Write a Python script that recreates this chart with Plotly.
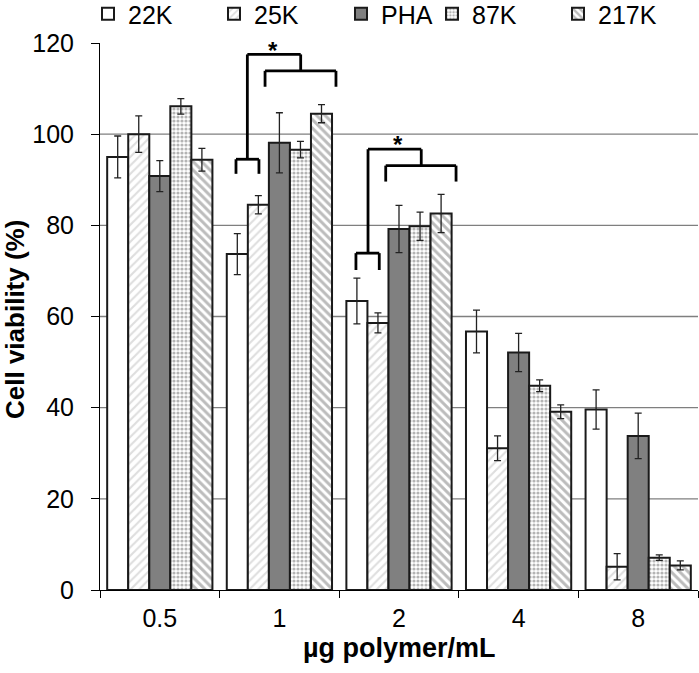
import plotly.graph_objects as go

categories = ["0.5", "1", "2", "4", "8"]
series_names = ["22K", "25K", "PHA", "87K", "217K"]

v_22k = [95.0, 73.7, 63.4, 56.7, 39.6]
e_22k = [4.6, 4.5, 5.0, 4.7, 4.3]
v_25k = [100.0, 84.5, 58.6, 31.1, 5.1]
e_25k = [4.0, 2.0, 2.2, 2.7, 2.9]
v_pha = [90.8, 98.1, 79.2, 52.1, 33.8]
e_pha = [3.4, 6.6, 5.2, 4.2, 5.0]
v_87k = [106.1, 96.6, 79.8, 44.8, 7.1]
e_87k = [1.7, 1.8, 3.1, 1.3, 0.6]
v_217k = [94.4, 104.5, 82.6, 39.1, 5.4]
e_217k = [2.5, 2.0, 4.2, 1.5, 1.0]

y_ticks = [0, 20, 40, 60, 80, 100, 120]

FONT = "Arial, 'Liberation Sans', sans-serif"

values = [v_22k, v_25k, v_pha, v_87k, v_217k]
errors = [e_22k, e_25k, e_pha, e_87k, e_217k]

styles = [
    dict(color="white", pattern=dict(shape="")),
    dict(color="white", pattern=dict(shape="/", fgcolor="#bdbdbd", bgcolor="white", size=6, solidity=0.35)),
    dict(color="#808080", pattern=dict(shape="")),
    dict(color="white", pattern=dict(shape=".", fgcolor="#6a6a6a", bgcolor="white", size=4, solidity=0.5)),
    dict(color="white", pattern=dict(shape="\\", fgcolor="#7a7a7a", bgcolor="white", size=6, solidity=0.5)),
]

legend_ids = ["legend", "legend2", "legend3", "legend4", "legend5"]
legend_text_x = [128, 254, 381, 472, 598]

fig = go.Figure()
for name, vals, errs, st, lg in zip(series_names, values, errors, styles, legend_ids):
    fig.add_trace(go.Bar(
        name=name, x=categories, y=vals,
        error_y=dict(type="data", array=errs, visible=True, color="#222", thickness=1.3, width=3.5),
        marker=dict(color=st["color"], pattern=st["pattern"], line=dict(color="#1a1a1a", width=2)),
        legend=lg,
    ))

shapes = []
for yv in y_ticks[1:-1]:
    shapes.append(dict(type="line", xref="paper", x0=0, x1=1, yref="y", y0=yv, y1=yv,
                       line=dict(color="#7f7f7f", width=1.3), layer="below"))

def seg(x0, y0, x1, y1):
    shapes.append(dict(type="line", xref="x", yref="y", x0=x0, y0=y0, x1=x1, y1=y1,
                       line=dict(color="black", width=2.8), layer="above"))

# bracket at 1 ug/mL
seg(0.637, 91.3, 0.637, 94.5); seg(0.637, 94.5, 0.829, 94.5); seg(0.829, 94.5, 0.829, 91.3)
seg(0.732, 94.5, 0.732, 117.5); seg(0.732, 117.5, 1.178, 117.5); seg(1.178, 117.5, 1.178, 113.9)
seg(0.880, 110.4, 0.880, 113.9); seg(0.880, 113.9, 1.473, 113.9); seg(1.473, 113.9, 1.473, 110.4)
# bracket at 2 ug/mL
seg(1.640, 70.2, 1.640, 73.9); seg(1.640, 73.9, 1.835, 73.9); seg(1.835, 73.9, 1.835, 70.2)
seg(1.741, 73.9, 1.741, 96.7); seg(1.741, 96.7, 2.186, 96.7); seg(2.186, 96.7, 2.186, 93.1)
seg(1.889, 89.6, 1.889, 93.1); seg(1.889, 93.1, 2.477, 93.1); seg(2.477, 93.1, 2.477, 89.6)

annotations = [
    dict(x=0.946, y=118.3, xref="x", yref="y", text="<b>*</b>", showarrow=False,
         font=dict(family=FONT, size=24, color="black"), yanchor="middle"),
    dict(x=1.992, y=97.8, xref="x", yref="y", text="<b>*</b>", showarrow=False,
         font=dict(family=FONT, size=24, color="black"), yanchor="middle"),
    dict(x=(15 - 100) / 598, y=(590 - 320) / 547, xref="paper", yref="paper",
         text="<b>Cell viability (%)</b>", textangle=-90, showarrow=False,
         xanchor="center", yanchor="middle", font=dict(family=FONT, size=26, color="black")),
    dict(x=0.5, y=(590 - 648) / 547, xref="paper", yref="paper",
         text="<b>µg polymer/mL</b>", showarrow=False,
         xanchor="center", yanchor="middle", font=dict(family=FONT, size=27, color="black")),
]

layout_legends = {}
for lg, tx in zip(legend_ids, legend_text_x):
    layout_legends[lg] = dict(
        xref="container", yref="paper", x=(tx - 40) / 699, y=1 + (43 - 14) / 547,
        xanchor="left", yanchor="middle", orientation="h", bgcolor="rgba(0,0,0,0)",
        font=dict(family=FONT, size=25, color="black"), itemwidth=30,
    )

fig.update_layout(
    width=699, height=673,
    margin=dict(l=100, r=1, t=43, b=83, autoexpand=False),
    paper_bgcolor="white", plot_bgcolor="white",
    barmode="group", bargap=0.12, bargroupgap=0,
    font=dict(family=FONT, size=25, color="black"),
    shapes=shapes, annotations=annotations,
    showlegend=True,
    **layout_legends,
)
fig.update_xaxes(
    type="category", range=[-0.5, 4.5], showline=True, linecolor="black", linewidth=1,
    ticks="outside", tickson="boundaries", ticklen=7, tickcolor="black", tickwidth=1,
    showgrid=False, automargin=False, tickfont=dict(family=FONT, size=25, color="black"),
    ticklabelstandoff=6,
)
fig.update_yaxes(
    range=[0, 120], tickvals=y_ticks, showline=True, linecolor="black", linewidth=1,
    ticks="outside", ticklen=8, tickcolor="black", tickwidth=1, showgrid=False, zeroline=False,
    automargin=False, tickfont=dict(family=FONT, size=25, color="black"), ticklabelstandoff=12,
)

fig.write_html("out.html", config={"displayModeBar": False},
               post_script="document.body.style.margin='0';")
